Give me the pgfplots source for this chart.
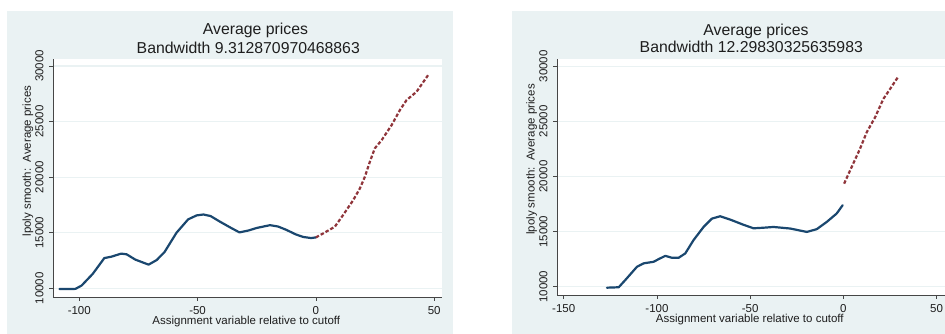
\documentclass[border=0pt]{standalone}
\usepackage{fontspec}
\setmainfont{Liberation Sans}
\usepackage{pgfplots}
\pgfplotsset{compat=1.18}

\definecolor{stbg}{RGB}{234,242,243}
\definecolor{stgrid}{RGB}{234,242,243}
\definecolor{stnavy}{RGB}{26,71,111}
\definecolor{stmaroon}{RGB}{144,53,59}
\definecolor{staxis}{RGB}{70,70,70}
\definecolor{sttext}{RGB}{30,30,30}

\pgfplotsset{
  stata/.style={
    scale only axis, anchor=south west,
    axis background/.style={fill=white},
    axis x line*=bottom, axis y line*=left,
    axis line style={staxis, line width=0.6pt, -},
    ytick={10000,15000,20000,25000,30000},
    ymajorgrids, major grid style={stgrid, line width=1.2pt},
    tick style={staxis, line width=0.6pt},
    tick align=outside, major tick length=4pt,
    /pgf/number format/assume math mode=true,
    /pgf/number format/1000 sep={},
    scaled y ticks=false, scaled x ticks=false,
    yticklabel style={rotate=90, anchor=south, inner sep=0pt, yshift=5.3pt,
      font=\fontsize{11.5}{12}\selectfont, text=sttext},
    xticklabel style={anchor=base, inner sep=0pt, yshift=-14pt,
      font=\fontsize{11.5}{12}\selectfont, text=sttext},
    label style={font=\fontsize{11.5}{12}\selectfont, text=sttext, inner sep=0pt},
    xlabel={Assignment variable relative to cutoff},
    ylabel={lpoly smooth:\ \ Average prices},
  },
  solidline/.style={stnavy, line width=2.2pt, line join=round, line cap=round},
  dashline/.style={stmaroon, line width=2.2pt, dash pattern=on 3.5pt off 2pt},
}

\begin{document}
\begin{tikzpicture}
\path[use as bounding box] (0pt,0pt) rectangle (945pt,334pt);
\fill[white] (0pt,0pt) rectangle (945pt,334pt);
\fill[stbg] (7pt,0pt) rectangle (453pt,323pt);
\fill[stbg] (512.3pt,0pt) rectangle (945pt,323pt);

% ---------- left panel ----------
\begin{axis}[stata,
  at={(53pt,37pt)}, width=389pt, height=238pt,
  xmin=-111.1, xmax=53.3, ymin=9218, ymax=30630,
  xtick={-100,-50,0,50},
  xlabel style={at={(axis description cs:0.497,0)}, anchor=base, yshift=-28pt},
  ylabel style={at={(axis description cs:0,0.571)}, anchor=base, yshift=22pt},
]
\addplot[solidline] coordinates {
(-108.4,9940)(-104,9930)(-101.6,9950)(-99,10250)(-94.3,11300)(-89.4,12720)(-86.5,12840)
(-82.3,13120)(-80,13060)(-76.3,12580)(-70.7,12130)(-67.3,12540)(-64,13250)(-58.9,15000)
(-54,16200)(-50.4,16560)(-47.5,16640)(-44.5,16500)(-40.5,15990)(-36,15450)(-32.3,15030)
(-28.5,15200)(-25,15430)(-19.4,15680)(-16,15560)(-12.4,15250)(-8.5,14850)(-5.4,14620)
(-2,14520)(0,14580)};
\addplot[dashline] coordinates {
(0,14580)(3.1,14940)(8,15540)(11.5,16590)(15.8,17940)(18.6,18990)(20.7,20030)(22.8,21380)
(24.9,22590)(27.8,23330)(32,24680)(35.5,26030)(38.3,26930)(42.5,27670)(47.4,29170)};
\end{axis}

% ---------- right panel ----------
\begin{axis}[stata,
  at={(557pt,39pt)}, width=388pt, height=236pt,
  xmin=-153.6, xmax=54.5, ymin=9247, ymax=30662,
  xtick={-150,-100,-50,0,50},
  xlabel style={at={(axis description cs:0.497,0)}, anchor=base, yshift=-28pt},
  ylabel style={at={(axis description cs:0,0.574)}, anchor=base, yshift=22.4pt},
]
\addplot[solidline] coordinates {
(-126.8,9910)(-120.5,9950)(-117,10600)(-110.7,11810)(-107.1,12120)(-101.8,12260)(-99.1,12500)
(-95.5,12800)(-91.9,12620)(-88.4,12620)(-84.8,13020)(-80.4,14220)(-75,15420)(-70.5,16180)
(-66.1,16390)(-60.7,16090)(-53.6,15620)(-48.2,15300)(-43,15350)(-37.5,15420)(-28.6,15280)
(-19.6,14970)(-14.3,15220)(-8.9,15880)(-3.6,16640)(-0.4,17390)};
\addplot[dashline] coordinates {
(0.4,19350)(3.6,20550)(8.9,22510)(12.5,24010)(17,25370)(21.4,27030)(25,27930)(29.4,29050)};
\end{axis}

% ---------- titles ----------
\begin{scope}[every node/.style={anchor=base, text=sttext, font=\fontsize{15.8}{18}\selectfont, inner sep=0pt}]
\node at (255.5pt,299.3pt) {Average prices};
\node at (248.3pt,280.7pt) {Bandwidth 9.312870970468863};
\node at (756pt,298.3pt) {Average prices};
\node at (751.3pt,281.3pt) {Bandwidth 12.29830325635983};
\end{scope}
\end{tikzpicture}
\end{document}
